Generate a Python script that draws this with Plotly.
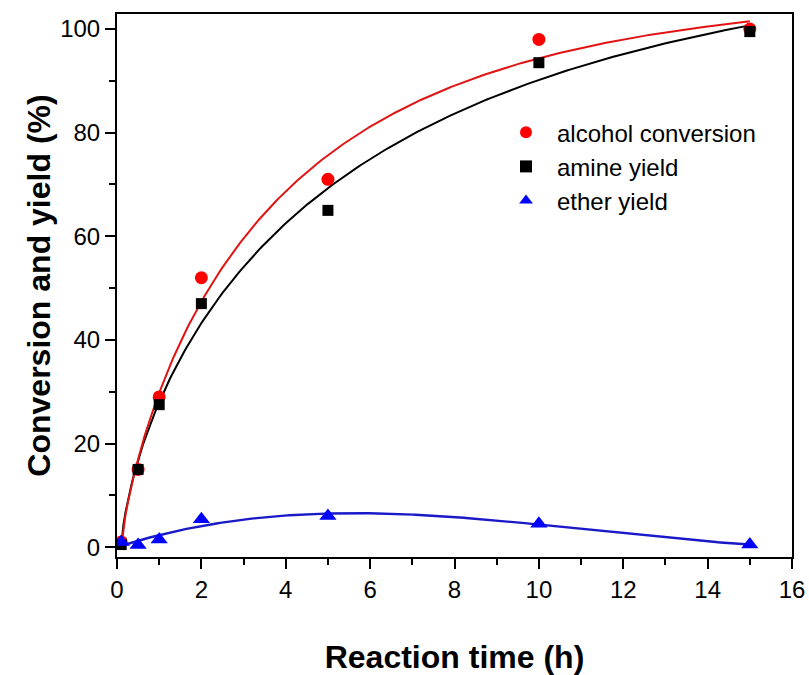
import numpy as np
import plotly.graph_objects as go

time_h = [0.1, 0.5, 1, 2, 5, 10, 15]
alcohol_conversion = [1.0, 15.0, 29.0, 52.0, 71.0, 98.0, 100.0]
amine_yield = [0.5, 15.0, 27.5, 47.0, 65.0, 93.5, 99.5]
ether_yield = [1.0, 0.4, 1.5, 5.4, 6.0, 4.5, 0.5]

x_ticks = [0, 2, 4, 6, 8, 10, 12, 14, 16]
y_ticks = [0, 20, 40, 60, 80, 100]

t = np.array(time_h)
t_fit = np.linspace(0.1, 15, 300)


def stretched_exp_fit(y):
    """Least-squares fit y = a * (1 - exp(-((t-0.1)/tau)^p)) by grid search."""
    y = np.array(y)
    s = np.clip(t - 0.1, 0, None)
    best = None
    for p in np.linspace(0.5, 1.5, 51):
        for tau in np.linspace(1.0, 20.0, 191):
            g = 1 - np.exp(-(s / tau) ** p)
            a = float(np.dot(g, y) / np.dot(g, g))
            err = float(np.sum((a * g - y) ** 2))
            if best is None or err < best[0]:
                best = (err, a, tau, p)
    _, a, tau, p = best
    sf = np.clip(t_fit - 0.1, 0, None)
    return a * (1 - np.exp(-(sf / tau) ** p))


red_fit = stretched_exp_fit(alcohol_conversion)
black_fit = stretched_exp_fit(amine_yield)
blue_fit = np.polyval(np.polyfit(t, np.array(ether_yield), 3), t_fit)

FONT = "Arial, Liberation Sans, sans-serif"

fig = go.Figure()
fig.add_trace(go.Scatter(x=t_fit, y=black_fit, mode="lines",
                         line=dict(color="black", width=2), showlegend=False))
fig.add_trace(go.Scatter(x=t_fit, y=red_fit, mode="lines",
                         line=dict(color="rgb(225,20,20)", width=2), showlegend=False))
fig.add_trace(go.Scatter(x=t_fit, y=blue_fit, mode="lines",
                         line=dict(color="rgb(25,25,200)", width=2.4), showlegend=False))

fig.add_trace(go.Scatter(x=time_h, y=alcohol_conversion, mode="markers",
                         name="alcohol conversion",
                         marker=dict(symbol="circle", size=13, color="#ff0000")))
fig.add_trace(go.Scatter(x=time_h, y=amine_yield, mode="markers",
                         name="amine yield",
                         marker=dict(symbol="square", size=11, color="black")))
fig.add_trace(go.Scatter(x=time_h, y=ether_yield, mode="markers",
                         name="ether yield",
                         marker=dict(symbol="triangle-up", size=15, color="#0000ff")))

axis_common = dict(
    showline=True, linecolor="black", linewidth=2, mirror=True,
    ticks="outside", ticklen=10, tickwidth=1.5, tickcolor="black",
    showgrid=False, zeroline=False,
    tickfont=dict(family=FONT, size=24, color="black"),
)

fig.update_xaxes(
    range=[0, 16], tickvals=x_ticks,
    minor=dict(dtick=1, ticks="outside", ticklen=6, tickcolor="black", tickwidth=1.5),
    title=dict(text="<b>Reaction time (h)</b>", standoff=44,
               font=dict(family=FONT, size=32, color="black")),
    **axis_common,
)
fig.update_yaxes(
    range=[-1.9, 102.9], tickvals=y_ticks,
    minor=dict(dtick=10, tick0=0, ticks="outside", ticklen=6, tickcolor="black", tickwidth=1.5),
    title=dict(text="<b>Conversion and yield (%)</b>", standoff=0,
               font=dict(family=FONT, size=32, color="black")),
    **axis_common,
)

fig.update_layout(
    width=809, height=675,
    margin=dict(l=117, r=17, t=14, b=118, autoexpand=False),
    paper_bgcolor="white", plot_bgcolor="white",
    legend=dict(x=0.56, y=0.823, xanchor="left", yanchor="top",
                bgcolor="rgba(0,0,0,0)", itemwidth=52,
                font=dict(family=FONT, size=24, color="black"),
                itemsizing="constant"),
)

fig.write_html("out.html",
               config={"displayModeBar": False},
               post_script="document.body.style.margin='0';document.body.style.overflow='hidden';")
